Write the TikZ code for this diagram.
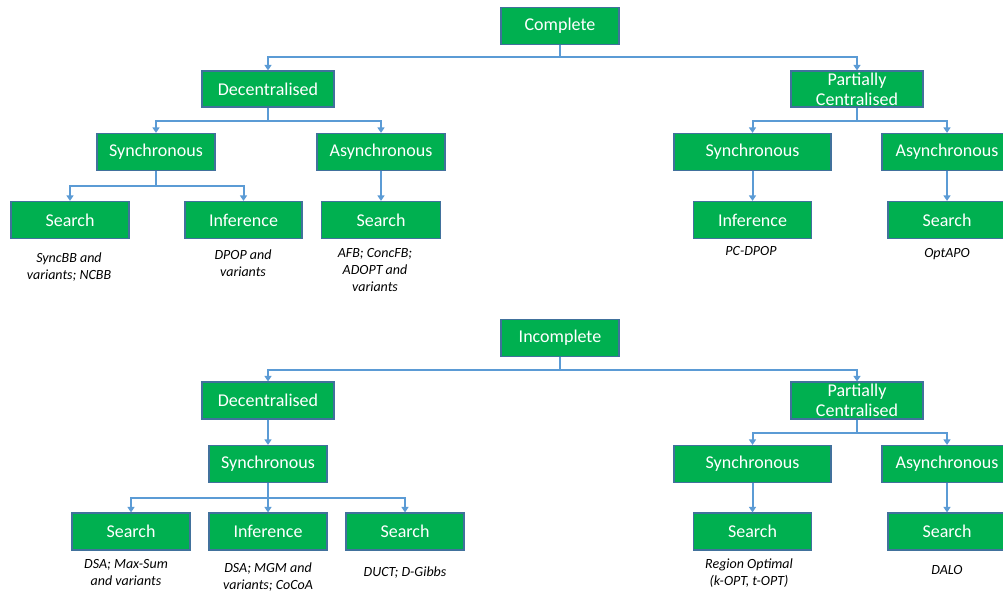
\documentclass[tikz,border=0pt]{standalone}
\usepackage{fontspec}
\setmainfont{Carlito}
\usetikzlibrary{arrows.meta}
\definecolor{boxgreen}{HTML}{00B050}
\definecolor{boxedge}{HTML}{41719C}
\definecolor{conncol}{HTML}{5B9BD5}
\begin{document}
\begin{tikzpicture}[x=1pt,y=-1pt,
  box/.style={rectangle,fill=boxgreen,draw=boxedge,line width=1.2pt,inner sep=0pt,
    text=white,font=\fontsize{18}{21}\selectfont,align=center,minimum height=37pt},
  lab/.style={inner sep=0pt,align=center,font=\fontsize{14}{17}\selectfont\itshape,text=black},
  conn/.style={draw=conncol,line width=2pt,-{Triangle[width=7pt,length=5.5pt]}}]
\useasboundingbox (0,0) rectangle (1003,592);
% ---------- Complete ----------
\node[box,minimum width=118pt] (complete) at (560,26) {Complete};
\node[box,minimum width=132pt,minimum height=36pt] (dec1) at (268,89) {Decentralised};
\node[box,minimum width=132pt,minimum height=36pt] (pc1) at (857,89) {Partially\\[-1pt]Centralised};
\node[box,minimum width=118pt] (sync1) at (156,152) {Synchronous};
\node[box,minimum width=128pt] (async1) at (381,152) {Asynchronous};
\node[box,minimum width=157pt] (psync1) at (752.5,152) {Synchronous};
\node[box,minimum width=130pt] (pasync1) at (947,152) {Asynchronous};
\node[box,minimum width=118pt] (search1) at (70,220) {Search};
\node[box,minimum width=117pt] (inf1) at (243.5,220) {Inference};
\node[box,minimum width=119pt] (search2) at (381,220) {Search};
\node[box,minimum width=118pt] (pinf1) at (752.5,220) {Inference};
\node[box,minimum width=118pt] (psearch1) at (947,220) {Search};
\node[lab] (l1) at (69,267.5) {SyncBB and\\variants; NCBB};
\node[lab] (l2) at (243,263.5) {DPOP and\\variants};
\node[lab] (l3) at (375,270.5) {AFB; ConcFB;\\ADOPT and\\variants};
\node[lab] (l4) at (751,251) {PC-DPOP};
\node[lab] (l5) at (947,254) {OptAPO};
\draw[conn] (complete.south) -- ++(0,12) -| (dec1.north);
\draw[conn] (complete.south) -- ++(0,12) -| (pc1.north);
\draw[conn] (dec1.south) -- ++(0,13) -| (sync1.north);
\draw[conn] (dec1.south) -- ++(0,13) -| (async1.north);
\draw[conn] (pc1.south) -- ++(0,13) -| (psync1.north);
\draw[conn] (pc1.south) -- ++(0,13) -| (pasync1.north);
\draw[conn] (sync1.south) -- ++(0,15) -| (search1.north);
\draw[conn] (sync1.south) -- ++(0,15) -| (inf1.north);
\draw[conn] (async1.south) -- (search2.north);
\draw[conn] (psync1.south) -- (pinf1.north);
\draw[conn] (pasync1.south) -- (psearch1.north);
% ---------- Incomplete ----------
\node[box,minimum width=118pt] (incomplete) at (560,338) {Incomplete};
\node[box,minimum width=132pt] (dec2) at (268,400.5) {Decentralised};
\node[box,minimum width=132pt] (pc2) at (857,400.5) {Partially\\[-1pt]Centralised};
\node[box,minimum width=118pt] (sync2) at (268,464) {Synchronous};
\node[box,minimum width=157pt] (psync2) at (752.5,464) {Synchronous};
\node[box,minimum width=130pt] (pasync2) at (947,464) {Asynchronous};
\node[box,minimum width=118pt] (s21) at (131,531.5) {Search};
\node[box,minimum width=118pt] (i22) at (268,531.5) {Inference};
\node[box,minimum width=118pt] (s23) at (405,531.5) {Search};
\node[box,minimum width=118pt] (ps2) at (752.5,531.5) {Search};
\node[box,minimum width=118pt] (pas2) at (947,531.5) {Search};
\node[lab] (l6) at (126,573) {DSA; Max-Sum\\and variants};
\node[lab] (l7) at (268,577.5) {DSA; MGM and\\variants; CoCoA};
\node[lab] (l8) at (405,573) {DUCT; D-Gibbs};
\node[lab] (l9) at (749,573) {Region Optimal\\(k-OPT, t-OPT)};
\node[lab] (l10) at (947,570) {DALO};
\draw[conn] (incomplete.south) -- ++(0,13) -| (dec2.north);
\draw[conn] (incomplete.south) -- ++(0,13) -| (pc2.north);
\draw[conn] (dec2.south) -- (sync2.north);
\draw[conn] (pc2.south) -- ++(0,13) -| (psync2.north);
\draw[conn] (pc2.south) -- ++(0,13) -| (pasync2.north);
\draw[conn] (sync2.south) -- ++(0,15) -| (s21.north);
\draw[conn] (sync2.south) -- (i22.north);
\draw[conn] (sync2.south) -- ++(0,15) -| (s23.north);
\draw[conn] (psync2.south) -- (ps2.north);
\draw[conn] (pasync2.south) -- (pas2.north);
\end{tikzpicture}
\end{document}
